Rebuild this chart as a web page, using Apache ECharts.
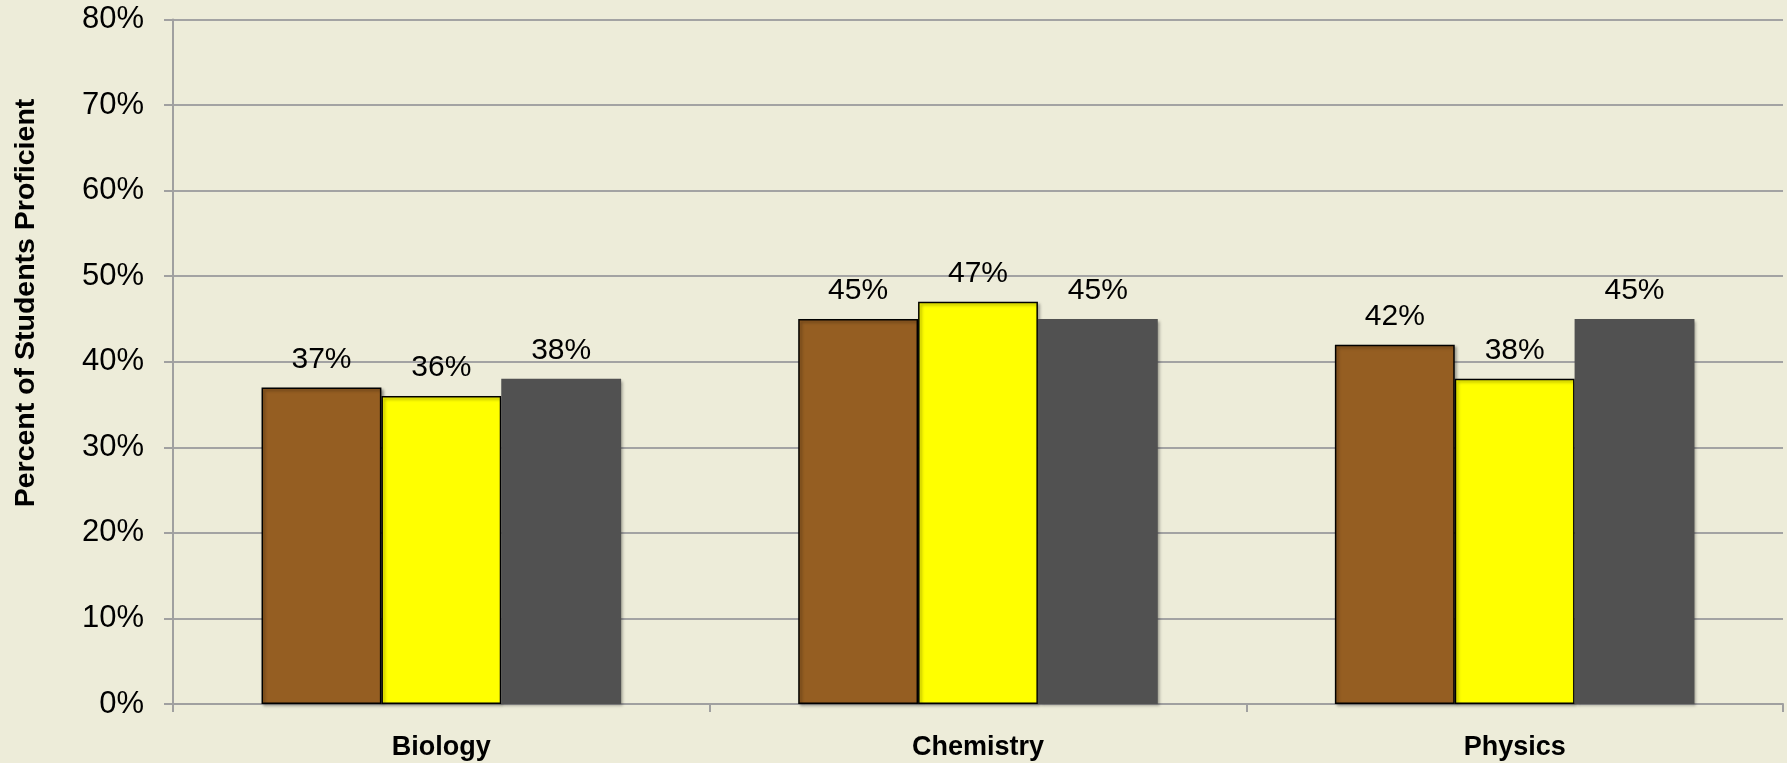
<!DOCTYPE html>
<html>
<head>
<meta charset="utf-8">
<script src="https://cdn.jsdelivr.net/npm/echarts@6/dist/echarts.min.js"></script>
<style>
  html, body { margin: 0; padding: 0; background: #EDECD9; }
  #chart { width: 1787px; height: 763px; }
</style>
</head>
<body>
<div id="chart"></div>
<script>
// Science proficiency by subject
const subjects = ['Biology', 'Chemistry', 'Physics'];
const schoolPct = [37, 45, 42];
const districtPct = [36, 47, 38];
const statePct = [38, 45, 45];
const yTicks = [0, 10, 20, 30, 40, 50, 60, 70, 80];
const yTitle = 'Percent of Students Proficient';

const FONT = '"Liberation Sans", Arial, sans-serif';

function barSeries(name, data, color, bordered) {
  return {
    name: name,
    type: 'bar',
    data: data,
    barGap: '0%',
    barCategoryGap: '33%',
    itemStyle: {
      color: color,
      borderColor: bordered ? '#000000' : color,
      borderWidth: bordered ? 1.5 : 0,
      shadowColor: 'rgba(0,0,0,0.35)',
      shadowBlur: 3,
      shadowOffsetX: 2,
      shadowOffsetY: 2
    },
    label: {
      show: true,
      position: 'top',
      distance: 13,
      formatter: '{c}%',
      color: '#000000',
      fontFamily: FONT,
      fontSize: 30
    }
  };
}

const chart = echarts.init(document.getElementById('chart'));
chart.setOption({
  backgroundColor: '#EDECD9',
  animation: false,
  grid: { left: 173, right: 4, top: 19.5, bottom: 59 },
  xAxis: {
    type: 'category',
    data: subjects,
    axisLine: { lineStyle: { color: '#A0A0A0', width: 2 } },
    axisTick: { show: true, length: 8, lineStyle: { color: '#A0A0A0', width: 2 } },
    axisLabel: {
      color: '#000000',
      fontFamily: FONT,
      fontWeight: 'bold',
      fontSize: 27,
      margin: 30
    }
  },
  yAxis: {
    type: 'value',
    min: yTicks[0],
    max: yTicks[yTicks.length - 1],
    interval: 10,
    axisLine: { show: true, lineStyle: { color: '#A0A0A0', width: 2 } },
    axisTick: { show: true, length: 9, lineStyle: { color: '#A0A0A0', width: 2 } },
    splitLine: { lineStyle: { color: '#A3A3A3', width: 2 } },
    axisLabel: {
      color: '#000000',
      fontFamily: FONT,
      fontSize: 31,
      margin: 29,
      formatter: '{value}%'
    }
  },
  graphic: [{
    type: 'text',
    x: 26,
    y: 303,
    rotation: Math.PI / 2,
    style: {
      text: yTitle,
      fontFamily: FONT,
      fontWeight: 'bold',
      fontSize: 28.5,
      fill: '#000000',
      align: 'center',
      verticalAlign: 'middle'
    }
  }],
  series: [
    barSeries('School', schoolPct, '#955E22', true),
    barSeries('District', districtPct, '#FFFF00', true),
    barSeries('State', statePct, '#515151', false)
  ]
});
</script>
</body>
</html>
